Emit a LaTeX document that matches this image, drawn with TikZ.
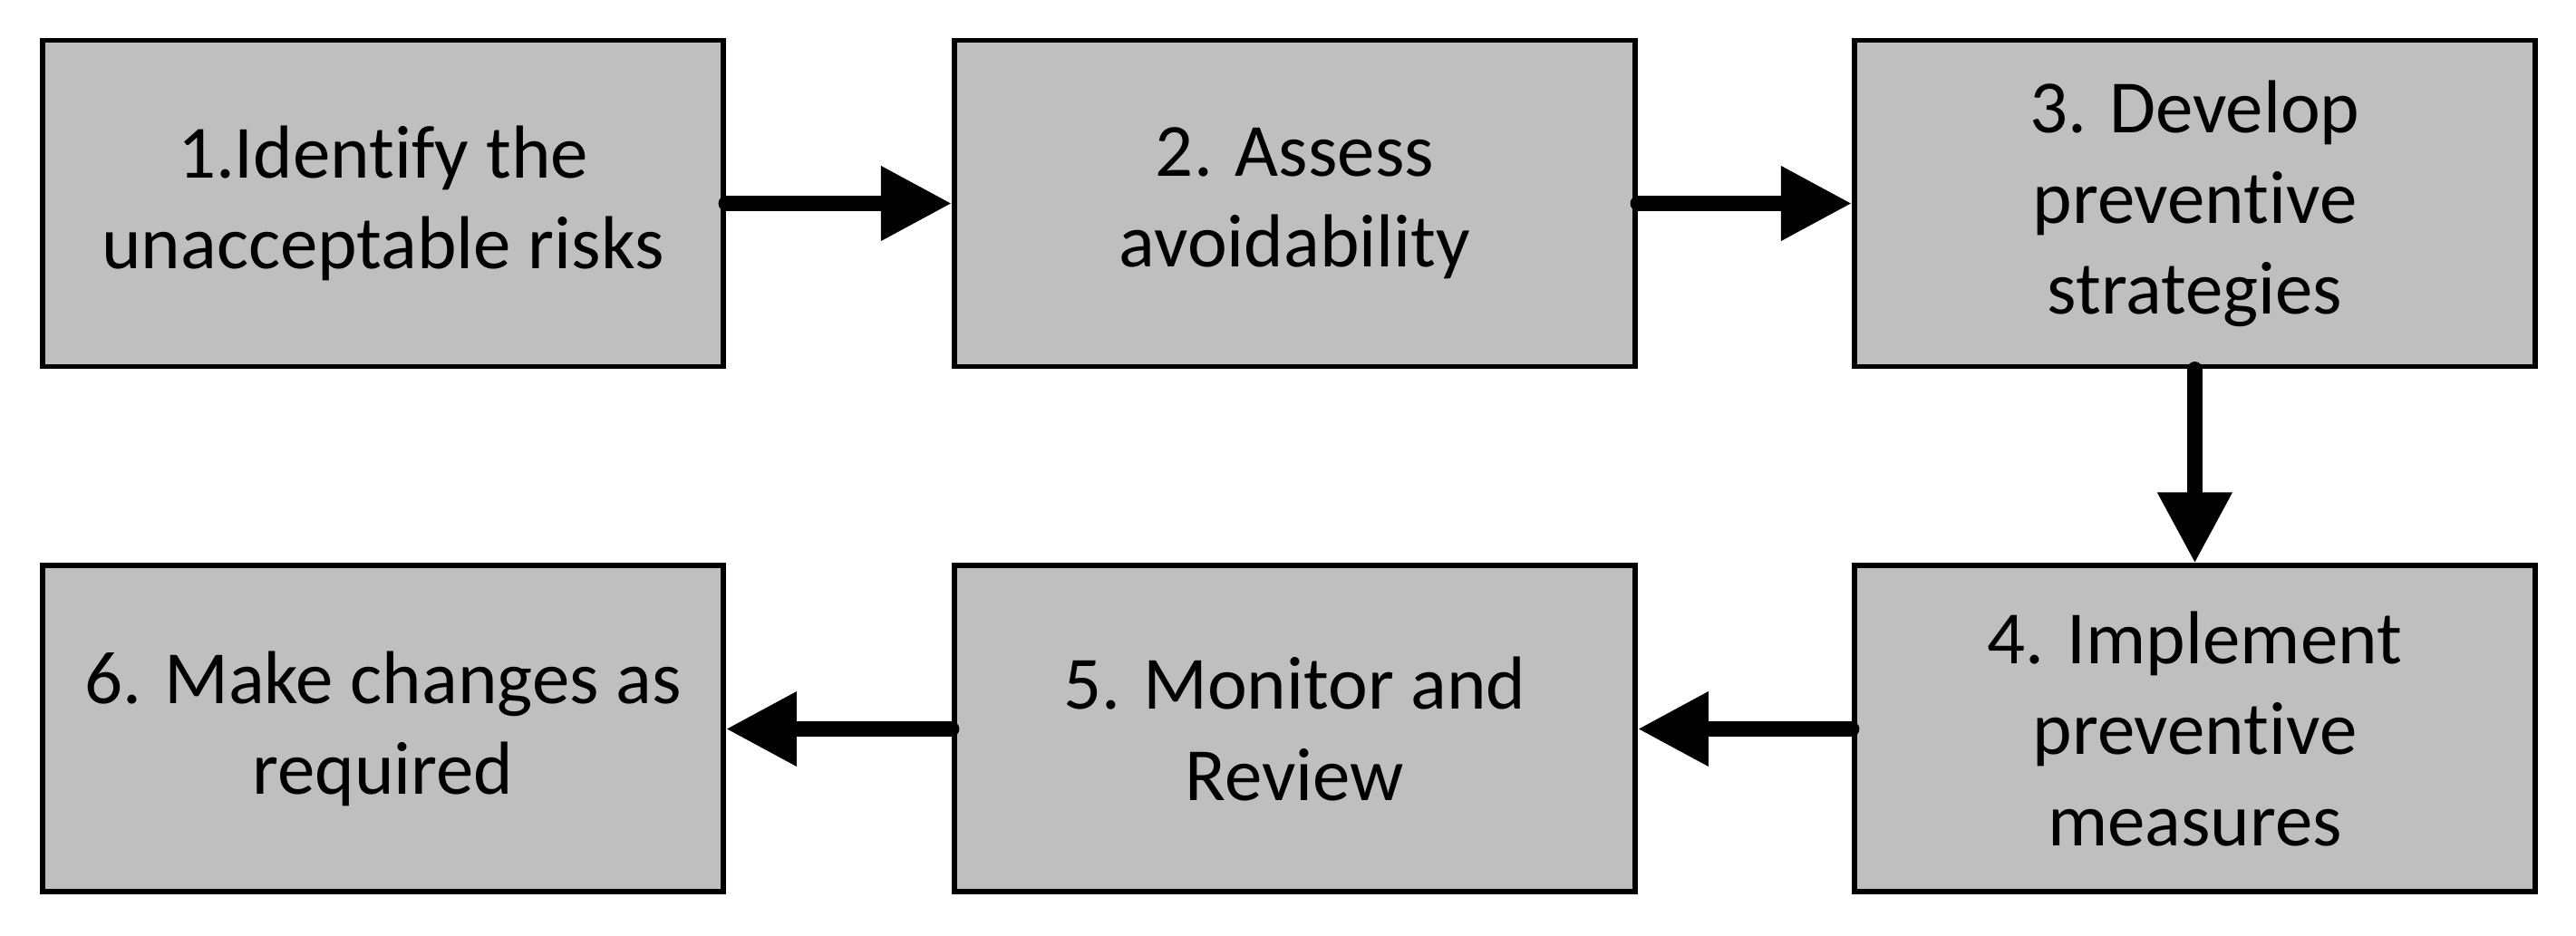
\documentclass[tikz,border=0pt]{standalone}
\usepackage{fontspec}
\setmainfont{Carlito}[Ligatures=NoCommon]
\usepackage{tikz}
\usetikzlibrary{positioning,arrows.meta}
\definecolor{boxgray}{RGB}{191,191,191}
\tikzset{
    stepbox/.style={
        draw=black,
        fill=boxgray,
        line width=1.7pt,
        minimum width=7.51cm,
        minimum height=3.6cm,
        align=center,
        font=\fontsize{23.6}{28.5}\selectfont
    },
    flow/.style={
        line width=4.8pt,
        line cap=round,
        -{Triangle[length=0.78cm,width=0.78cm]}
    }
}

\begin{document}
\begin{tikzpicture}
    \useasboundingbox (0,-10.33) rectangle (28.42,0);
    \node[stepbox] at (4.225,-2.245)
        (s1) {1.Identify the\\unacceptable risks};
    \node[stepbox,right=2.49cm of s1]
        (s2) {2. Assess\\avoidability};
    \node[stepbox,right=2.36cm of s2]
        (s3) {3. Develop\\preventive\\strategies};
    \node[stepbox,below=2.14cm of s3]
        (s4) {4. Implement\\preventive\\measures};
    \node[stepbox,left=2.36cm of s4]
        (s5) {5. Monitor and\\Review};
    \node[stepbox,left=2.49cm of s5]
        (s6) {6. Make changes as\\required};
    \draw[flow] (s1) -- (s2);
    \draw[flow] (s2) -- (s3);
    \draw[flow] (s3) -- (s4);
    \draw[flow] (s4) -- (s5);
    \draw[flow] (s5) -- (s6);
\end{tikzpicture}
\end{document}
